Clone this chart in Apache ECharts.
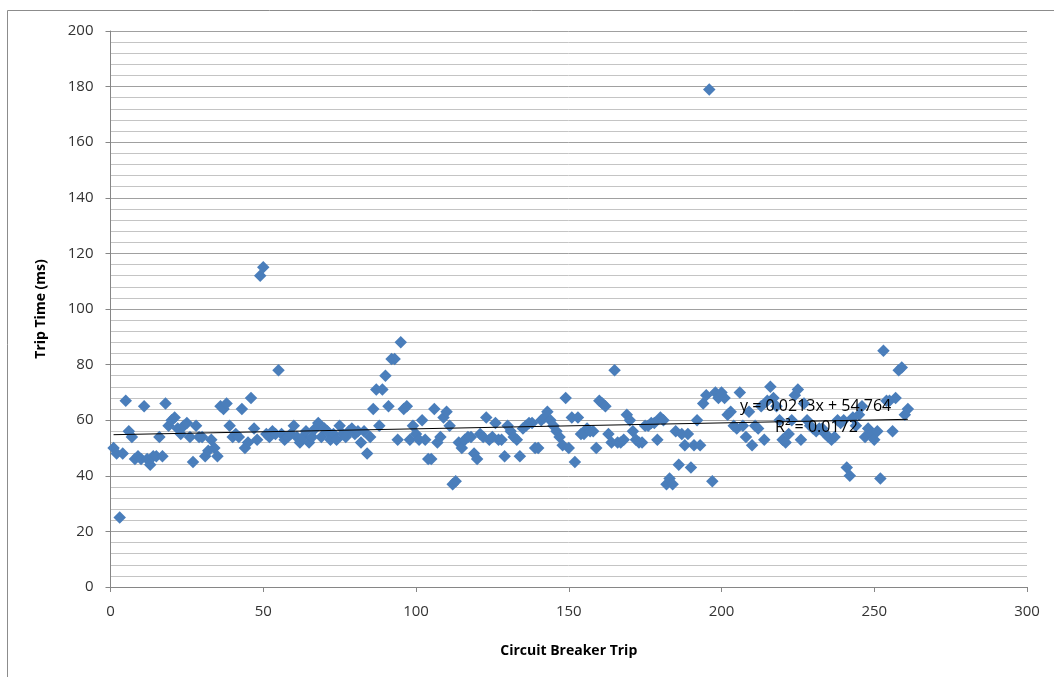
<!DOCTYPE html>
<html>
<head>
<meta charset="utf-8">
<script src="https://cdn.jsdelivr.net/npm/echarts@6/dist/echarts.min.js"></script>
<style>
html,body{margin:0;padding:0;background:#fff;}
#chart{width:1054px;height:677px;}
</style>
</head>
<body>
<div id="chart"></div>
<script>
// Trip numbers are 1..N; trip times (ms)
const tripTimes = [
50,48,25,48,67,56,54,46,47,46,
65,46,44,47,47,54,47,66,58,60,
61,57,55,58,59,54,45,58,54,54,
47,49,53,50,47,65,64,66,58,54,
55,54,64,50,52,68,57,53,112,115,
55,54,56,55,78,55,53,54,55,58,
54,52,54,56,52,54,57,59,54,57,
56,53,55,53,58,55,54,56,57,55,
56,52,56,48,54,64,71,58,71,76,
65,82,82,53,88,64,65,53,58,55,
53,60,53,46,46,64,52,54,61,63,
58,37,38,52,50,53,54,54,48,46,
55,54,61,53,54,59,53,53,47,58,
56,54,53,47,57,58,59,59,50,50,
60,61,63,60,58,56,54,51,68,50,
61,45,61,55,55,57,56,56,50,67,
66,65,55,52,78,52,52,53,62,60,
56,53,52,52,58,58,59,59,53,61,
60,37,39,37,56,44,55,51,55,43,
51,60,51,66,69,179,38,70,68,70,
68,62,63,58,57,70,58,54,63,51,
58,57,65,53,67,72,68,65,60,53,
52,55,60,69,71,53,66,60,58,57,
56,57,57,55,54,53,54,60,59,60,
43,40,61,58,62,65,54,57,55,53,
56,39,85,67,67,56,68,78,79,62,
64
];
const tripNumbers = tripTimes.map((v, i) => i + 1);

// Linear trendline as reported on the chart
const trendSlope = 0.0213;
const trendIntercept = 54.764;
const trendR2 = 0.0172;
const trendLabel = ['y = ' + trendSlope + 'x + ' + trendIntercept, 'R\u00b2 = ' + trendR2];

const xTicks = { min: 0, max: 300, interval: 50 };
const yTicks = { min: 0, max: 200, interval: 20 };
const xTitle = 'Circuit Breaker Trip';
const yTitle = 'Trip Time (ms)';

const scatterData = tripNumbers.map((x, i) => [x, tripTimes[i]]);
const xFirst = tripNumbers[0], xLast = tripNumbers[tripNumbers.length - 1];
const trendData = [[xFirst, trendSlope * xFirst + trendIntercept], [xLast, trendSlope * xLast + trendIntercept]];

const chart = echarts.init(document.getElementById('chart'), null, { renderer: 'canvas' });
const FONT = 'Open Sans';
chart.setOption({
  animation: false,
  backgroundColor: '#fff',
  grid: { left: 110.5, right: 27, top: 31, bottom: 90 },
  xAxis: {
    type: 'value', min: xTicks.min, max: xTicks.max, interval: xTicks.interval,
    name: xTitle, nameLocation: 'middle', nameGap: 57,
    nameTextStyle: { fontFamily: FONT, fontWeight: 'bold', fontSize: 14, color: '#000' },
    axisLine: { show: true, onZero: false, lineStyle: { color: '#868686', width: 1 } },
    axisTick: { show: true, length: 5, lineStyle: { color: '#868686' } },
    axisLabel: { fontFamily: FONT, fontSize: 15, color: '#333', margin: 17 },
    splitLine: { show: false }
  },
  yAxis: {
    type: 'value', min: yTicks.min, max: yTicks.max, interval: yTicks.interval,
    name: yTitle, nameLocation: 'middle', nameGap: 62, nameRotate: 90,
    nameTextStyle: { fontFamily: FONT, fontWeight: 'bold', fontSize: 14, color: '#000' },
    axisLine: { show: true, lineStyle: { color: '#868686', width: 1 } },
    axisTick: { show: true, length: 5, lineStyle: { color: '#868686' } },
    axisLabel: { fontFamily: FONT, fontSize: 15, color: '#333', margin: 17 },
    splitLine: { show: true, lineStyle: { color: '#a0a0a0', width: 1 } },
    minorTick: { show: false, splitNumber: 5 },
    minorSplitLine: { show: true, lineStyle: { color: '#c4c4c4', width: 1 } }
  },
  series: [
    {
      type: 'scatter', data: scatterData, symbol: 'diamond', symbolSize: 12.5,
      itemStyle: { color: '#4a7ebb', opacity: 1 }, z: 3
    },
    {
      type: 'line', data: trendData, symbol: 'none',
      lineStyle: { color: '#000', width: 1 }, z: 4, silent: true
    }
  ],
  graphic: [
    { type: 'rect', shape: { x: 7.5, y: 10.5, width: 1200, height: 800 },
      style: { fill: 'none', stroke: '#8c8c8c', lineWidth: 1 }, z: -1 },
    { type: 'text', left: 740, top: 398,
      style: { text: trendLabel[0], fontFamily: FONT, fontSize: 16, fill: '#000' }, z: 10 },
    { type: 'text', left: 775, top: 419,
      style: { text: trendLabel[1], fontFamily: FONT, fontSize: 16, fill: '#000' }, z: 10 }
  ]
});
</script>
</body>
</html>
